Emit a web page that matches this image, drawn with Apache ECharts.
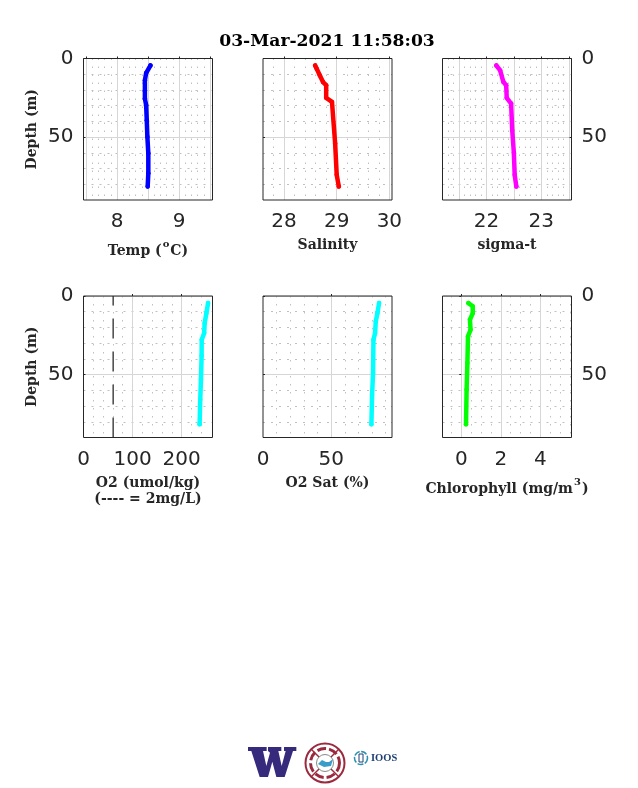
<!DOCTYPE html>
<html><head><meta charset="utf-8">
<style>html,body{margin:0;padding:0;background:#fff}#c{width:638px;height:788px}</style>
<script src="https://cdn.jsdelivr.net/npm/echarts@6/dist/echarts.min.js"></script>
</head><body><div id="c"></div>
<script>
const titleText = '03-Mar-2021 11:58:03';
const depthMajor = [0, 50];
const depthMinor = [10, 20, 30, 40, 60, 70, 80];
const depthLabels = [0, 50];

const tempDepth = [4.4, 9.3, 13.9, 20.3, 25.5, 29.7, 39.2, 49.8, 60.3, 73, 81.4];
const tempValues = [8.54, 8.47, 8.45, 8.45, 8.45, 8.47, 8.48, 8.49, 8.505, 8.505, 8.495];
const salDepth = [4.4, 6.5, 10.8, 15, 17, 25, 27.6, 54, 74, 81.4];
const salValues = [28.59, 28.62, 28.68, 28.74, 28.80, 28.80, 28.91, 28.97, 29.0, 29.04];
const sigmaDepth = [4.4, 7.6, 15, 17, 25, 28.7, 45.6, 60, 74, 81.4];
const sigmaValues = [22.18, 22.25, 22.31, 22.36, 22.37, 22.45, 22.47, 22.50, 22.515, 22.545];
const o2Depth = [4.5, 11, 17.3, 23.6, 27.8, 38, 53, 66, 81.6];
const o2Values = [254, 250.5, 247, 246, 241, 240.8, 239.5, 238, 236.7];
const satDepth = [4.5, 11, 16.2, 23.6, 27.8, 49, 63, 81.6];
const satValues = [85.1, 83.9, 82.7, 82.2, 81, 80.7, 80, 79.5];
const chlDepth = [4.5, 6.5, 11, 15, 21.5, 25.7, 42.6, 59.5, 81.6];
const chlValues = [0.36, 0.58, 0.58, 0.44, 0.47, 0.34, 0.31, 0.27, 0.24];
const o2LimitDepth = [90, 0];
const o2LimitValues = [60.5, 60.5];

const SERIF = '"DejaVu Serif"';
const SANS = '"DejaVu Sans"';
const INK = '#262626';

const panels = [
 {x:83.5,y:58.5,min:7.46,max:9.54,major:[7.5,8,8.5,9,9.5],minor:[7.6,7.7,7.8,7.9,8.1,8.2,8.3,8.4,8.6,8.7,8.8,8.9,9.1,9.2,9.3,9.4],labels:[8,9],
  name:'Temp ({s|o}C)',gap:39,depth:tempDepth,vals:tempValues,color:'#0000ff',ylab:'left'},
 {x:263,y:58.5,min:27.6,max:30.05,major:[28,29,30],minor:[27.8,28.2,28.4,28.6,28.8,29.2,29.4,29.6,29.8],labels:[28,29,30],
  name:'Salinity',gap:37,depth:salDepth,vals:salValues,color:'#ff0000',ylab:null},
 {x:442.5,y:58.5,min:21.2,max:23.55,major:[21.5,22,22.5,23,23.5],minor:[21.3,21.4,21.6,21.7,21.8,21.9,22.1,22.2,22.3,22.4,22.6,22.7,22.8,22.9,23.1,23.2,23.3,23.4],labels:[22,23],
  name:'sigma-t',gap:37,depth:sigmaDepth,vals:sigmaValues,color:'#ff00ff',ylab:'right'},
 {x:83.5,y:296,min:0,max:263,major:[100,200],minor:[20,40,60,80,120,140,160,180,220,240],labels:[0,100,200],
  name:'O2 (umol/kg)\n(---- = 2mg/L)',gap:38,depth:o2Depth,vals:o2Values,color:'#00ffff',ylab:'left',limit:true},
 {x:263,y:296,min:0,max:94.6,major:[50],minor:[10,20,30,40,60,70,80,90],labels:[0,50],
  name:'O2 Sat (%)',gap:38,depth:satDepth,vals:satValues,color:'#00ffff',ylab:null},
 {x:442.5,y:296,min:-0.95,max:5.58,major:[0,2,4],minor:[-0.5,0.5,1,1.5,2.5,3,3.5,4.5,5,5.5],labels:[0,2,4],
  name:'Chlorophyll (mg/m{s|3})',gap:40,depth:chlDepth,vals:chlValues,color:'#00ff00',ylab:'right'}
];
const W = 129, H = 141.5;
const nameRich = {s:{fontFamily:SERIF,fontWeight:'bold',fontSize:10,color:INK,verticalAlign:'top',lineHeight:10,padding:[0,1,0,1]}};
const grids=[],xAxes=[],yAxes=[],series=[];
panels.forEach((p,i)=>{
  grids.push({left:p.x,top:p.y,width:W,height:H,show:false});
  const mk=()=>({type:'value',gridIndex:i,min:p.min,max:p.max,axisLine:{show:false},
    splitArea:{show:false},minorTick:{show:false},minorSplitLine:{show:false}});
  xAxes.push(Object.assign(mk(),{
    axisTick:{show:true,inside:true,length:2,customValues:p.major,lineStyle:{color:INK}},
    splitLine:{show:true,lineStyle:{color:'#d6d6d6',width:1}},
    axisLabel:{show:true,customValues:p.labels,fontFamily:SANS,fontSize:20,color:INK,margin:12,showMinLabel:true,showMaxLabel:true,hideOverlap:false},
    name:p.name,nameLocation:'middle',nameGap:p.gap,
    nameTextStyle:{fontFamily:SERIF,fontWeight:'bold',fontSize:14,color:INK,lineHeight:p.name.includes('{s|')?24:16,rich:nameRich}
  }));
  const ix=xAxes.length-1;
  xAxes.push(Object.assign(mk(),{
    axisTick:{show:false,customValues:p.minor},axisLabel:{show:false},
    splitLine:{show:true,lineStyle:{color:'#c0c0c0',width:1,type:[1.5,6.5]}}
  }));
  yAxes.push({type:'value',gridIndex:i,inverse:true,min:0,max:90,position:p.ylab==='right'?'right':'left',
    axisLine:{show:false},minorTick:{show:false},
    axisTick:{show:true,inside:true,length:2,customValues:depthMajor,lineStyle:{color:INK}},
    splitLine:{show:true,lineStyle:{color:'#d6d6d6',width:1}},
    axisLabel:{show:!!p.ylab,customValues:depthLabels,fontFamily:SANS,fontSize:20,color:INK,margin:10,padding:[2,0,0,0],showMinLabel:true,hideOverlap:false},
    name:p.ylab==='left'?'Depth (m)':'',nameLocation:'middle',nameGap:44,nameRotate:90,
    nameTextStyle:{fontFamily:SERIF,fontWeight:'bold',fontSize:14,color:INK}
  });
  const iy=yAxes.length-1;
  yAxes.push({type:'value',gridIndex:i,inverse:true,min:0,max:90,axisLine:{show:false},
    axisTick:{show:false,customValues:depthMinor},axisLabel:{show:false},
    splitLine:{show:true,lineStyle:{color:'#c0c0c0',width:1,type:[2,6]}}});
  if(p.limit){
    series.push({type:'line',xAxisIndex:ix,yAxisIndex:iy,z:3,showSymbol:false,symbol:'none',silent:true,
      data:o2LimitDepth.map((d,k)=>[o2LimitValues[k],d]),
      lineStyle:{color:'#555555',width:1.6,type:[20,13]}});
  }
  series.push({type:'line',xAxisIndex:ix,yAxisIndex:iy,z:4,showSymbol:true,showAllSymbol:true,symbol:'circle',symbolSize:4.5,silent:true,
    itemStyle:{color:p.color},
    data:p.depth.map((d,k)=>[p.vals[k],d]),
    lineStyle:{color:p.color,width:4.5,cap:'round',join:'round'}});
});
const frames = panels.map(p=>({type:'rect',z:50,silent:true,shape:{x:p.x,y:p.y,width:W,height:H},
  style:{fill:'none',stroke:INK,lineWidth:1}}));
const RED='#9c2a3f';
const wCrop=[[12,21],[68,21],[68,33],[57,33],[67,78],[78,38],[72,33],[72,21],[112,21],[112,33],[103,33],[113,78],[125,33],[120,33],[120,21],[157,21],[157,33],[147,33],[122,111],[97,111],[85,65],[72,111],[47,111],[22,33],[12,33]];
const logo=[
 {type:'polygon',z:60,shape:{points:wCrop.map(q=>[244+q[0]/3,740+q[1]/3])},style:{fill:'#352a7c'}},
 {type:'circle',z:60,shape:{cx:325,cy:763,r:19.5},style:{fill:'#fff',stroke:RED,lineWidth:2}},
 {type:'circle',z:60,shape:{cx:325,cy:763,r:14.5},style:{fill:'none',stroke:RED,lineWidth:3,lineDash:[9,3]}},
 {type:'line',z:60,shape:{x1:311,y1:749,x2:339,y2:777},style:{stroke:RED,lineWidth:1.5}},
 {type:'line',z:60,shape:{x1:339,y1:749,x2:311,y2:777},style:{stroke:RED,lineWidth:1.5}},
 {type:'circle',z:61,shape:{cx:325,cy:763,r:8.5},style:{fill:'#fff',stroke:'#888',lineWidth:1}},
 {type:'polygon',z:62,shape:{points:[[318,764],[322,760],[326,762],[329,762],[333,759],[331,766],[324,767]]},style:{fill:'#3a9cc8'}},
 {type:'circle',z:60,shape:{cx:361,cy:758,r:6.5},style:{fill:'#fff',stroke:'#2a8fb0',lineWidth:1.5,lineDash:[6,1.5]}},
 {type:'rect',z:60,shape:{x:359,y:754,width:4,height:8},style:{fill:'none',stroke:'#1d3f72',lineWidth:1}},
 {type:'text',z:60,x:371,y:753,style:{text:'IOOS',fontFamily:'"Liberation Serif"',fontWeight:'bold',fontSize:10.5,fill:'#1d3f72'}}
];
const chart=echarts.init(document.getElementById('c'),null,{renderer:'canvas'});
chart.setOption({
  animation:false,backgroundColor:'#fff',
  title:{text:titleText,left:322,top:28,textAlign:'center',textStyle:{fontFamily:SERIF,fontWeight:'bold',fontSize:17.2,color:'#000'}},
  grid:grids,xAxis:xAxes,yAxis:yAxes,series,
  graphic:{elements:frames.concat(logo)}
});
</script></body></html>
